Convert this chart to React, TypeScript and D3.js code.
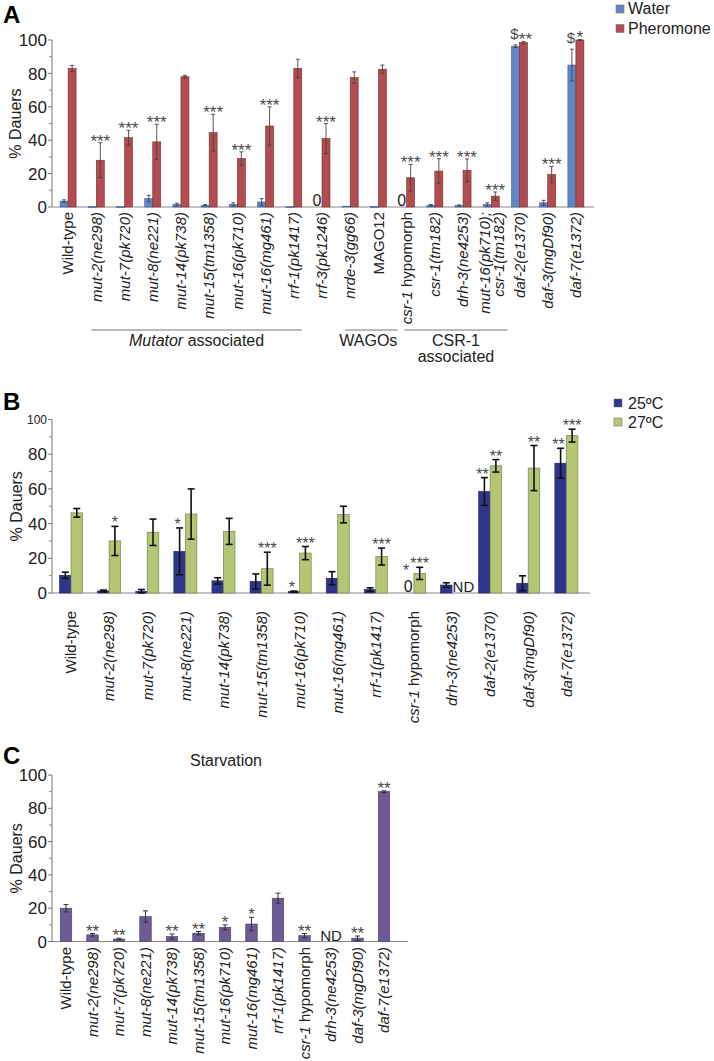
import React from 'react';
import * as d3 from 'd3';

const FONT = "'Liberation Sans', Arial, Helvetica, sans-serif";

// ---------- Panel A data ----------
const catsA = [
  'Wild-type', 'mut-2(ne298)', 'mut-7(pk720)', 'mut-8(ne221)', 'mut-14(pk738)', 'mut-15(tm1358)',
  'mut-16(pk710)', 'mut-16(mg461)', 'rrf-1(pk1417)', 'rrf-3(pk1246)', 'nrde-3(gg66)', 'MAGO12',
  'csr-1 hypomorph', 'csr-1(tm182)', 'drh-3(ne4253)', 'mut-16(pk710);|csr-1(tm182)',
  'daf-2(e1370)', 'daf-3(mgDf90)', 'daf-7(e1372)',
];
const waterA = [3.5, 0.3, 0.3, 5, 1.5, 1, 1.5, 3, 0.2, 0, 0.5, 0.3, 0, 1, 0.8, 1.5, 96.3, 2.5, 85];
const waterErrA = [0.8, 0, 0, 2, 0.8, 0.5, 1, 2, 0, 0, 0, 0, 0, 0.5, 0.5, 1, 0.8, 1.5, 9.5];
const pherA = [83, 28, 41.5, 39, 78, 44.5, 29, 48.5, 83, 41, 77.5, 82.5, 17.5, 21.5, 22, 6.5, 98.5, 19.5, 100];
const pherErrA = [1.8, 10.5, 4.4, 10.5, 0.8, 11, 4, 11.5, 5.5, 9, 3.4, 2.5, 8, 7.4, 6.8, 2.5, 0.7, 4.8, 0.3];
const sigWaterA = ['', '', '', '', '', '', '', '', '', '', '', '', '', '', '', '', '$', '', '$'];
const sigPherA = ['', '***', '***', '***', '', '***', '***', '***', '', '***', '', '', '***', '***', '***', '***', '**', '***', '*'];
const seriesA = ['Water', 'Pheromone'];
const groupsA = [
  { label: 'Mutator associated', from: 1, to: 8 },
  { label: 'WAGOs', from: 10, to: 11 },
  { label: 'CSR-1|associated', from: 12, to: 15 },
];

// ---------- Panel B data ----------
const catsB = [
  'Wild-type', 'mut-2(ne298)', 'mut-7(pk720)', 'mut-8(ne221)', 'mut-14(pk738)', 'mut-15(tm1358)',
  'mut-16(pk710)', 'mut-16(mg461)', 'rrf-1(pk1417)', 'csr-1 hypomorph', 'drh-3(ne4253)',
  'daf-2(e1370)', 'daf-3(mgDf90)', 'daf-7(e1372)',
];
const t25 = [10.2, 1.2, 1, 24, 7, 6.7, 0.8, 8.5, 2, 0, 4.6, 58.5, 5.6, 74.8];
const t25Err = [1.8, 0.5, 1, 13.5, 1.8, 4.3, 0.3, 3.8, 1, 0, 1.3, 8, 4.3, 8.6];
const t27 = [46.2, 30, 35, 45.5, 35.5, 14, 23, 45.2, 21, 11.3, null, 73.3, 72, 90.7];
const t27Err = [2.5, 8.4, 7.6, 14.5, 7.5, 9.5, 3.8, 4.8, 4.9, 3.5, 0, 3.6, 13, 3.7];
const sig25 = ['', '', '', '*', '', '', '*', '', '', '*', '', '**', '', '**'];
const sig27 = ['', '*', '', '', '', '***', '***', '', '***', '***', '', '**', '**', '***'];
const seriesB = ['25ºC', '27ºC'];

// ---------- Panel C data ----------
const catsC = [
  'Wild-type', 'mut-2(ne298)', 'mut-7(pk720)', 'mut-8(ne221)', 'mut-14(pk738)', 'mut-15(tm1358)',
  'mut-16(pk710)', 'mut-16(mg461)', 'rrf-1(pk1417)', 'csr-1 hypomorph', 'drh-3(ne4253)',
  'daf-3(mgDf90)', 'daf-7(e1372)',
];
const starv = [20, 4, 1.5, 15, 3, 5, 8.5, 10.5, 26, 3.5, null, 2, 90];
const starvErr = [2.2, 0.8, 0.5, 3.4, 1.5, 1, 1.5, 4, 3, 1.3, 0, 1.3, 0.5];
const sigC = ['', '**', '**', '', '**', '**', '*', '*', '', '**', '', '**', '**'];

const majorTicks = [0, 20, 40, 60, 80, 100];
const minorTicks = [10, 30, 50, 70, 90];

const C = {
  water: '#6087c5', waterS: '#3f5f98',
  pher: '#b14c50', pherS: '#7b2c30',
  c25: '#2f358c', c25S: '#1c2163',
  c27: '#b4c673', c27S: '#7f8c5c',
  starv: '#6d5b93', starvS: '#4b3d6d',
};

function LabelText({ label }: { label: string }) {
  if (label === 'Wild-type' || label === 'MAGO12') return <tspan>{label}</tspan>;
  if (label.startsWith('csr-1 hypomorph'))
    return (
      <>
        <tspan fontStyle="italic">csr-1</tspan>
        <tspan> hypomorph</tspan>
      </>
    );
  return <tspan fontStyle="italic">{label}</tspan>;
}

function XLabels({ cats, x, top, fs }: any) {
  return (
    <g fontFamily={FONT} fontSize={fs} fill="#222">
      {cats.map((c: string) => {
        const cx = (x(c) as number) + x.bandwidth() / 2;
        const parts = c.split('|');
        if (parts.length === 2) {
          return (
            <g key={c}>
              {parts.map((p, i) => (
                <text key={p} transform={`translate(${cx + (i === 0 ? -7 : 7)},${top}) rotate(-90)`} textAnchor="end" dy="0.35em">
                  <LabelText label={p} />
                </text>
              ))}
            </g>
          );
        }
        return (
          <text key={c} transform={`translate(${cx},${top}) rotate(-90)`} textAnchor="end" dy="0.35em">
            <LabelText label={c} />
          </text>
        );
      })}
    </g>
  );
}

function YAxis({ y, x0, x1, smallHundred, labelX }: any) {
  const y0 = y(0);
  const y100 = y(100);
  return (
    <g fontFamily={FONT}>
      <line x1={x0} x2={x0} y1={y0} y2={y100} stroke="#777" strokeWidth={1} />
      <line x1={x0} x2={x1} y1={y0} y2={y0} stroke="#888" strokeWidth={1.2} />
      {majorTicks.map((t) => (
        <g key={t}>
          <line x1={x0 - 4} x2={x0} y1={y(t)} y2={y(t)} stroke="#777" />
          <text x={x0 - 5} y={y(t)} dy="0.36em" textAnchor="end" fontSize={smallHundred && t === 100 ? 12 : 17} fill="#222">
            {t}
          </text>
        </g>
      ))}
      {minorTicks.map((t) => (
        <line key={t} x1={x0 - 3} x2={x0} y1={y(t)} y2={y(t)} stroke="#888" />
      ))}
      <text transform={`translate(${labelX},${(y0 + y100) / 2}) rotate(-90)`} textAnchor="middle" fontSize={16} fill="#222">
        % Dauers
      </text>
    </g>
  );
}

function ErrBar({ cx, y, v, e, cap, color, sw }: any) {
  if (!e) return null;
  const top = y(v + e);
  const bot = y(Math.max(0, v - e));
  return (
    <g stroke={color} strokeWidth={sw}>
      <line x1={cx} x2={cx} y1={top} y2={bot} />
      <line x1={cx - cap / 2} x2={cx + cap / 2} y1={top} y2={top} />
      <line x1={cx - cap / 2} x2={cx + cap / 2} y1={bot} y2={bot} />
    </g>
  );
}

function Sig({ cx, errTop, text, fs }: any) {
  if (!text) return null;
  const dollar = text.includes('$');
  return (
    <text x={cx} y={dollar ? errTop - 6 : errTop + 4} textAnchor="middle" fontFamily={FONT} fontSize={dollar ? 15 : fs} fill="#4a4a4a">
      {text}
    </text>
  );
}

function PanelA() {
  const y = d3.scaleLinear().domain([0, 100]).range([207, 40]);
  const x = d3.scaleBand().domain(catsA).range([54, 590]);
  const bw = 8;
  return (
    <g>
      <text x={3} y={23} fontFamily={FONT} fontSize={24} fontWeight="bold">A</text>
      <YAxis y={y} x0={52} x1={594} labelX={21} />
      {catsA.map((c, i) => {
        const cx = (x(c) as number) + x.bandwidth() / 2;
        const wv = waterA[i];
        const pv = pherA[i];
        const wTop = y(wv + waterErrA[i]);
        const pTop = y(pv + pherErrA[i]);
        return (
          <g key={c}>
            {wv > 0 && (
              <rect x={cx - bw} y={y(wv)} width={bw} height={Math.max(0.8, y(0) - y(wv))} fill={C.water} stroke={C.waterS} strokeWidth={0.6} />
            )}
            {wv === 0 && (
              <text x={cx - bw / 2 - 1} y={y(0) - 1} textAnchor="middle" fontFamily={FONT} fontSize={16} fill="#222">0</text>
            )}
            <rect x={cx} y={y(pv)} width={bw} height={y(0) - y(pv)} fill={C.pher} stroke={C.pherS} strokeWidth={0.6} />
            <ErrBar cx={cx - bw / 2} y={y} v={wv} e={waterErrA[i]} cap={4} color="#444" sw={0.9} />
            <ErrBar cx={cx + bw / 2} y={y} v={pv} e={pherErrA[i]} cap={4} color="#444" sw={0.9} />
            <Sig cx={cx - bw / 2 - 1} errTop={wTop} text={sigWaterA[i]} fs={17} />
            <Sig cx={cx + bw / 2 + (sigPherA[i] === '**' ? 2 : 0)} errTop={pTop} text={sigPherA[i]} fs={17} />
          </g>
        );
      })}
      <XLabels cats={catsA} x={x} top={212} fs={15} />
      {groupsA.map((g, gi) => {
        const ext = [[-5, 8], [-5, 19], [-2, 16]][gi];
        const x1 = (x(catsA[g.from]) as number) + x.bandwidth() / 2 + ext[0];
        const x2 = (x(catsA[g.to]) as number) + x.bandwidth() / 2 + ext[1];
        const lines = g.label.split('|');
        const mid = (x1 + x2) / 2;
        return (
          <g key={g.label} fontFamily={FONT} fontSize={16} fill="#222">
            <line x1={x1} x2={x2} y1={330} y2={330} stroke="#777" strokeWidth={1} />
            {lines.map((l, li) => (
              <text key={l} x={mid + (gi === 1 ? -3 : 0)} y={346 + li * 16} textAnchor="middle">
                {l.startsWith('Mutator') ? (
                  <>
                    <tspan fontStyle="italic">Mutator</tspan>
                    <tspan>{l.slice(7)}</tspan>
                  </>
                ) : (
                  l
                )}
              </text>
            ))}
          </g>
        );
      })}
      {seriesA.map((s, i) => (
        <g key={s}>
          <rect x={616} y={5 + i * 19.5} width={8} height={8} fill={i === 0 ? C.water : C.pher} stroke="#777" strokeWidth={0.6} />
          <text x={628} y={14 + i * 19.5} fontFamily={FONT} fontSize={16} fill="#222">{s}</text>
        </g>
      ))}
    </g>
  );
}

function PanelB() {
  const y = d3.scaleLinear().domain([0, 100]).range([593, 419.5]);
  const x = d3.scaleBand().domain(catsB).range([52, 585.4]);
  const bw = 11.5;
  return (
    <g>
      <text x={3} y={410} fontFamily={FONT} fontSize={24} fontWeight="bold">B</text>
      <YAxis y={y} x0={52} x1={590} smallHundred labelX={22} />
      {catsB.map((c, i) => {
        const cx = (x(c) as number) + x.bandwidth() / 2;
        const a = t25[i];
        const b = t27[i];
        return (
          <g key={c}>
            {a > 0 && (
              <rect x={cx - bw} y={y(a)} width={bw} height={Math.max(0.8, y(0) - y(a))} fill={C.c25} stroke={C.c25S} strokeWidth={0.6} />
            )}
            {a === 0 && (
              <>
                <text x={cx - bw / 2} y={y(0) - 1} textAnchor="middle" fontFamily={FONT} fontSize={16} fill="#222">0</text>
                <Sig cx={cx - bw / 2 - 2} errTop={y(0) - 21} text={sig25[i]} fs={16} />
              </>
            )}
            {b !== null && (
              <rect x={cx} y={y(b)} width={bw} height={y(0) - y(b)} fill={C.c27} stroke={C.c27S} strokeWidth={0.8} />
            )}
            {b === null && (
              <text x={cx + 0.5} y={y(0) - 1} textAnchor="start" fontFamily={FONT} fontSize={15} fill="#222">ND</text>
            )}
            <ErrBar cx={cx - bw / 2} y={y} v={a} e={t25Err[i]} cap={7} color="#111" sw={1.6} />
            {b !== null && <ErrBar cx={cx + bw / 2} y={y} v={b} e={t27Err[i]} cap={7} color="#111" sw={1.6} />}
            {a > 0 && <Sig cx={cx - bw / 2 - 2} errTop={y(a + t25Err[i]) - 2} text={sig25[i]} fs={16} />}
            {b !== null && <Sig cx={cx + bw / 2} errTop={y(b + t27Err[i]) - 2} text={sig27[i]} fs={16} />}
          </g>
        );
      })}
      <XLabels cats={catsB} x={x} top={611} fs={15} />
      {seriesB.map((s, i) => (
        <g key={s}>
          <rect x={614} y={399 + i * 19} width={8} height={8} fill={i === 0 ? C.c25 : C.c27} stroke="#777" strokeWidth={0.6} />
          <text x={628} y={408.5 + i * 19} fontFamily={FONT} fontSize={16} fill="#222">{s}</text>
        </g>
      ))}
    </g>
  );
}

function PanelC() {
  const y = d3.scaleLinear().domain([0, 100]).range([941.5, 775]);
  const x = d3.scaleBand().domain(catsC).range([52.75, 397.25]);
  const bw = 11.5;
  return (
    <g>
      <text x={3} y={764} fontFamily={FONT} fontSize={24} fontWeight="bold">C</text>
      <text x={226} y={766} textAnchor="middle" fontFamily={FONT} fontSize={16} fill="#222">Starvation</text>
      <YAxis y={y} x0={52} x1={408} labelX={22} />
      {catsC.map((c, i) => {
        const cx = (x(c) as number) + x.bandwidth() / 2;
        const v = starv[i];
        return (
          <g key={c}>
            {v !== null && (
              <rect x={cx - bw / 2} y={y(v)} width={bw} height={y(0) - y(v)} fill={C.starv} stroke={C.starvS} strokeWidth={0.6} />
            )}
            {v === null && (
              <text x={cx} y={y(0) - 1} textAnchor="middle" fontFamily={FONT} fontSize={15} fill="#222">ND</text>
            )}
            {v !== null && <ErrBar cx={cx} y={y} v={v} e={starvErr[i]} cap={5} color="#333" sw={1} />}
            {v !== null && <Sig cx={cx} errTop={y(v + starvErr[i]) - 1} text={sigC[i]} fs={17} />}
          </g>
        );
      })}
      <XLabels cats={catsC} x={x} top={947} fs={15} />
    </g>
  );
}

export default function App() {
  return (
    <svg width={714} height={1061} style={{ position: 'absolute', left: 0, top: 0, background: '#fff' }}>
      <rect x={0} y={0} width={714} height={1061} fill="#fff" />
      <PanelA />
      <PanelB />
      <PanelC />
    </svg>
  );
}
